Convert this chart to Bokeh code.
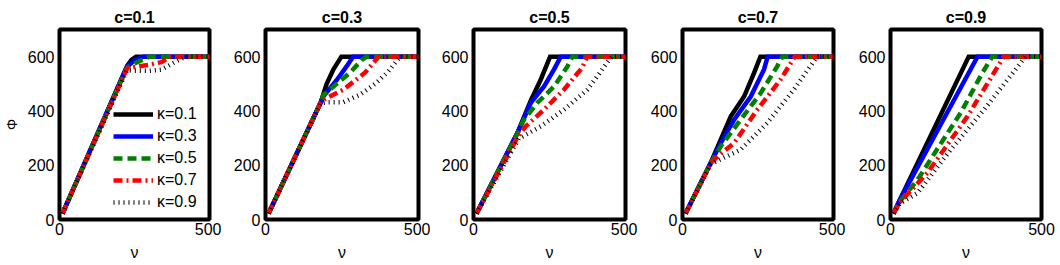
import math
from bokeh.plotting import figure
from bokeh.layouts import row
from bokeh.models import Range1d, FixedTicker, Legend, LegendItem
from bokeh.embed import file_html
from bokeh.resources import INLINE

# ---------------- data ----------------
titles = ["c=0.1", "c=0.3", "c=0.5", "c=0.7", "c=0.9"]
kappa_labels = ["κ=0.1", "κ=0.3", "κ=0.5", "κ=0.7", "κ=0.9"]
x_label = "ν"
y_label = "Φ"
x_ticks = [0, 500]
y_ticks = [0, 200, 400, 600]

# c = 0.1  (one list per kappa)
nu_c01 = [
    [10, 225, 240, 255, 500],
    [10, 225, 245, 265, 280, 500],
    [10, 225, 252, 275, 300, 500],
    [10, 225, 252, 300, 340, 370, 500],
    [10, 225, 245, 300, 340, 380, 420, 500],
]
phi_c01 = [
    [22, 565, 588, 600, 600],
    [22, 563, 582, 595, 600, 600],
    [22, 560, 576, 588, 600, 600],
    [22, 556, 562, 570, 580, 600, 600],
    [22, 550, 548, 548, 552, 577, 600, 600],
]

# c = 0.3
nu_c03 = [
    [10, 180, 200, 222, 248, 500],
    [10, 180, 190, 233, 265, 286, 500],
    [10, 180, 190, 233, 276, 315, 330, 500],
    [10, 180, 195, 254, 325, 370, 500],
    [10, 180, 200, 254, 309, 364, 401, 440, 500],
]
phi_c03 = [
    [22, 430, 500, 553, 600, 600],
    [22, 430, 455, 514, 564, 600, 600],
    [22, 430, 460, 500, 541, 588, 600, 600],
    [22, 430, 445, 478, 541, 600, 600],
    [22, 428, 432, 432, 460, 505, 545, 600, 600],
]

# c = 0.5
nu_c05 = [
    [10, 145, 189, 221, 252, 500],
    [10, 145, 189, 232, 265, 287, 500],
    [10, 145, 166, 211, 265, 309, 325, 500],
    [10, 148, 172, 232, 298, 358, 374, 500],
    [10, 150, 162, 221, 298, 375, 440, 455, 500],
]
phi_c05 = [
    [22, 320, 440, 515, 600, 600],
    [22, 320, 431, 490, 553, 600, 600],
    [22, 318, 368, 431, 490, 564, 600, 600],
    [22, 310, 343, 405, 479, 560, 600, 600],
    [22, 300, 306, 343, 405, 479, 578, 600, 600],
]

# c = 0.7
nu_c07 = [
    [10, 94, 127, 160, 204, 237, 258, 500],
    [10, 94, 127, 171, 226, 270, 282, 500],
    [10, 94, 127, 193, 259, 314, 331, 500],
    [10, 94, 117, 171, 248, 325, 372, 500],
    [10, 94, 105, 193, 281, 369, 435, 445, 500],
]
phi_c07 = [
    [22, 210, 295, 380, 453, 540, 600, 600],
    [22, 210, 282, 368, 453, 553, 600, 600],
    [22, 210, 270, 368, 466, 565, 600, 600],
    [22, 208, 233, 282, 405, 516, 600, 600],
    [22, 205, 210, 258, 356, 479, 583, 600, 600],
]

# c = 0.9
nu_c09 = [
    [10, 30, 259, 500],
    [10, 30, 288, 500],
    [10, 30, 90, 161, 233, 304, 337, 500],
    [10, 30, 123, 255, 375, 500],
    [10, 30, 90, 200, 310, 447, 500],
]
phi_c09 = [
    [22, 70, 600, 600],
    [22, 70, 600, 600],
    [22, 65, 147, 270, 394, 540, 600, 600],
    [22, 62, 173, 380, 600, 600],
    [22, 58, 98, 258, 405, 600, 600],
]

all_nu = [nu_c01, nu_c03, nu_c05, nu_c07, nu_c09]
all_phi = [phi_c01, phi_c03, phi_c05, phi_c07, phi_c09]

# ---------------- styles ----------------
colors = ["#000000", "#0000ff", "#008000", "#ff0000", "#000000"]
dashes = ["solid", "solid", "9 5", "9 4 2 4", "1 4"]
LW = 4.5
FONT = "Liberation Sans"

widths = [221, 209, 207, 208, 213]
lefts = [56, 44, 43, 45, 45]
rights = [12, 12, 12, 12, 17]
H = 265
TOP = 29
BOTTOM = 46

figs = []
for i in range(5):
    p = figure(width=widths[i], height=H, output_backend="svg", toolbar_location=None,
               x_range=Range1d(0, 500), y_range=Range1d(0, 700), title=titles[i],
               min_border_left=lefts[i], min_border_right=rights[i],
               min_border_top=TOP, min_border_bottom=BOTTOM)
    p.title.align = "center"
    p.title.text_font = FONT
    p.title.text_font_size = "16px"
    p.title.text_font_style = "bold"
    p.title.text_color = "black"
    p.title.standoff = 8
    p.grid.visible = False
    p.outline_line_color = "black"
    p.outline_line_width = 4
    p.background_fill_color = "white"
    p.border_fill_color = "white"
    for ax in (p.xaxis[0], p.yaxis[0]):
        ax.axis_line_color = None
        ax.major_tick_line_color = None
        ax.minor_tick_line_color = None
        ax.major_tick_out = 0
        ax.major_tick_in = 0
        ax.minor_tick_out = 0
        ax.minor_tick_in = 0
        ax.major_label_text_font = FONT
        ax.major_label_text_font_size = "16px"
        ax.major_label_text_color = "black"
        ax.axis_label_text_font = FONT
        ax.axis_label_text_font_style = "normal"
        ax.axis_label_text_color = "black"
    p.xaxis[0].major_label_standoff = 3
    p.yaxis[0].major_label_standoff = 5
    p.xaxis[0].ticker = FixedTicker(ticks=x_ticks)
    p.yaxis[0].ticker = FixedTicker(ticks=y_ticks)
    p.xaxis[0].axis_label = x_label
    p.xaxis[0].axis_label_text_font_size = "16px"
    p.xaxis[0].axis_label_standoff = 6
    if i == 0:
        p.yaxis[0].axis_label = y_label
        p.yaxis[0].axis_label_text_font_size = "14px"
        p.yaxis[0].axis_label_standoff = 5

    rends = []
    for k in range(5):
        r = p.line(all_nu[i][k], all_phi[i][k], line_color=colors[k], line_width=LW,
                   line_dash=dashes[k], line_cap="butt", line_join="miter")
        rends.append(r)

    if i == 0:
        items = [LegendItem(label=kappa_labels[k], renderers=[rends[k]]) for k in range(5)]
        leg = Legend(items=items, location=(54, 7), glyph_width=40, glyph_height=20,
                     label_height=20, spacing=2, padding=0, margin=0, label_standoff=4,
                     border_line_alpha=0, background_fill_alpha=0,
                     label_text_font=FONT, label_text_font_size="16px",
                     label_text_color="black")
        p.add_layout(leg)
    figs.append(p)

layout = row(*figs)
open("out.html", "w").write(file_html(layout, INLINE))
